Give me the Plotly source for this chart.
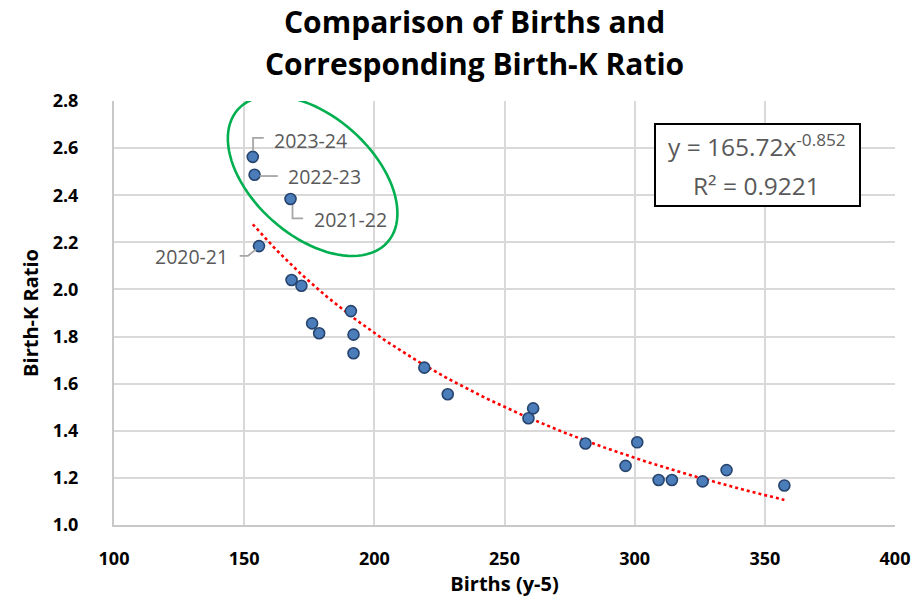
import numpy as np
import plotly.graph_objects as go

# ---------------- data ----------------
births = [153.3, 154.0, 167.8, 155.7, 168.2, 172.0, 176.1, 178.8, 191.0, 192.0, 192.0,
          219.2, 228.2, 259.2, 261.0, 281.1, 301.0, 296.5, 309.2, 314.3, 326.1, 335.3, 357.5]
ratio = [2.563, 2.487, 2.384, 2.184, 2.040, 2.016, 1.856, 1.814, 1.908, 1.808, 1.729,
         1.668, 1.555, 1.453, 1.495, 1.346, 1.351, 1.251, 1.191, 1.191, 1.185, 1.233, 1.168]
label_names = ["2023-24", "2022-23", "2021-22", "2020-21"]
label_index = [0, 1, 2, 3]

fit_coef = 165.72
fit_exp = -0.852
fit_r2 = 0.9221

x_ticks = [100, 150, 200, 250, 300, 350, 400]
y_ticks = [1.0, 1.2, 1.4, 1.6, 1.8, 2.0, 2.2, 2.4, 2.6, 2.8]

# ---------------- layout geometry ----------------
OFF = 8                      # page body margin in the browser
W, H = 922 - OFF, 606 - OFF
PL, PR, PT, PB = 114, 895, 101, 525   # plot area in page pixels
ML, MT = PL - OFF, PT - OFF
MR, MB = W - (PR - OFF), H - (PB - OFF)
PW, PH = PR - PL, PB - PT
XR, YR = [100, 400], [1.0, 2.8]
sx = PW / (XR[1] - XR[0])   # px per x unit
sy = PH / (YR[1] - YR[0])   # px per y unit


def px2paper(px, py):
    return (px - PL) / PW, (PB - py) / PH


fig = go.Figure()

# trendline from displayed power-law equation
xt = np.linspace(min(births), max(births), 200)
yt = fit_coef * xt ** fit_exp
fig.add_trace(go.Scatter(x=xt, y=yt, mode="lines",
                         line=dict(color="#FF0000", width=2.6, dash="dot"),
                         hoverinfo="skip", showlegend=False))

fig.add_trace(go.Scatter(x=births, y=ratio, mode="markers",
                         marker=dict(size=11, color="#4A7DBA",
                                     line=dict(color="#27446E", width=1.6)),
                         showlegend=False))

shapes = []
annotations = []

# leader lines and labels (pixel offsets relative to each point)
leader_offsets = [
    [(0.3, -6), (0.3, -19), (11, -19)],
    [(5, 1.3), (23.3, 1.3)],
    [(2, 6), (2, 19.3), (12.6, 19.3)],
    [(-3, 3.3), (-11, 9.7), (-19.3, 9.7)],
]
text_offsets = [(19, -16, "left"), (31.7, 2, "left"), (21, 21, "left"), (-28.6, 10.7, "right")]

for name, idx, segs, (tx, ty, anc) in zip(label_names, label_index, leader_offsets, text_offsets):
    bx, by = births[idx], ratio[idx]
    pts = [(bx + ox / sx, by - oy / sy) for ox, oy in segs]
    path = "M " + " L ".join(f"{p[0]},{p[1]}" for p in pts)
    shapes.append(dict(type="path", xref="x", yref="y", path=path,
                       line=dict(color="#A6A6A6", width=1.8)))
    annotations.append(dict(x=bx, y=by, xref="x", yref="y", text=name, showarrow=False,
                            xanchor=anc, yanchor="middle", xshift=tx, yshift=-ty,
                            font=dict(family="Open Sans", size=19.5, color="#595959")))

# green ellipse highlighting recent years
ecx, ecy = 176.3, 2.482
ea, eb, eth = 100, 60, np.deg2rad(41.5)
t = np.linspace(0, 2 * np.pi, 97)
ex = ea * np.cos(t) * np.cos(eth) - eb * np.sin(t) * np.sin(eth)
ey = ea * np.cos(t) * np.sin(eth) + eb * np.sin(t) * np.cos(eth)
epath = "M " + " L ".join(f"{ecx + a / sx},{ecy - b / sy}" for a, b in zip(ex, ey)) + " Z"
shapes.append(dict(type="path", xref="x", yref="y", path=epath,
                   line=dict(color="#00B050", width=2.6)))

# equation box
bx0, by0 = px2paper(655, 206)
bx1, by1 = px2paper(860, 124)
shapes.append(dict(type="rect", xref="paper", yref="paper", x0=bx0, y0=by0, x1=bx1, y1=by1,
                   line=dict(color="black", width=2), fillcolor="white", layer="above"))
e1x, e1y = px2paper(757, 145)
e2x, e2y = px2paper(756, 185)
annotations.append(dict(x=e1x, y=e1y, xref="paper", yref="paper", showarrow=False,
                        text=f"y = {fit_coef:.2f}x<sup>{fit_exp}</sup>",
                        xanchor="center", yanchor="middle",
                        font=dict(family="Open Sans", size=24.5, color="#595959")))
annotations.append(dict(x=e2x, y=e2y, xref="paper", yref="paper", showarrow=False,
                        text=f"R² = {fit_r2}",
                        xanchor="center", yanchor="middle",
                        font=dict(family="Open Sans", size=24.5, color="#595959")))

# title (two lines)
for line_txt, py in [("Comparison of Births and", 22), ("Corresponding Birth-K Ratio", 63)]:
    tx_, ty_ = px2paper(474, py)
    annotations.append(dict(x=tx_, y=ty_, xref="paper", yref="paper", showarrow=False,
                            text=f"<b>{line_txt}</b>", xanchor="center", yanchor="middle",
                            font=dict(family="Open Sans", size=30, color="black")))

axis_font = dict(family="Open Sans", size=18, color="black", weight="bold")
fig.update_layout(
    width=W, height=H,
    margin=dict(l=ML, r=MR, t=MT, b=MB),
    paper_bgcolor="white", plot_bgcolor="white",
    shapes=shapes, annotations=annotations,
    xaxis=dict(range=XR, tickvals=x_ticks, ticktext=[str(v) for v in x_ticks],
               showgrid=True, gridcolor="#D9D9D9", gridwidth=2,
               showline=True, linecolor="#C8C8C8", linewidth=2, mirror=False,
               zeroline=False, ticks="", tickfont=axis_font, ticklabelstandoff=16,
               title=dict(text="<b>Births (y-5)</b>", font=dict(family="Open Sans", size=20, color="black"),
                          standoff=8)),
    yaxis=dict(range=YR, tickvals=y_ticks, ticktext=[f"{v:.1f}" for v in y_ticks],
               showgrid=True, gridcolor="#D9D9D9", gridwidth=2,
               showline=True, linecolor="#C8C8C8", linewidth=2,
               zeroline=False, ticks="", tickfont=axis_font, ticklabelstandoff=30,
               title=dict(text="<b>Birth-K Ratio</b>", font=dict(family="Open Sans", size=20, color="black"),
                          standoff=9)),
)

fig.write_html("out.html")
